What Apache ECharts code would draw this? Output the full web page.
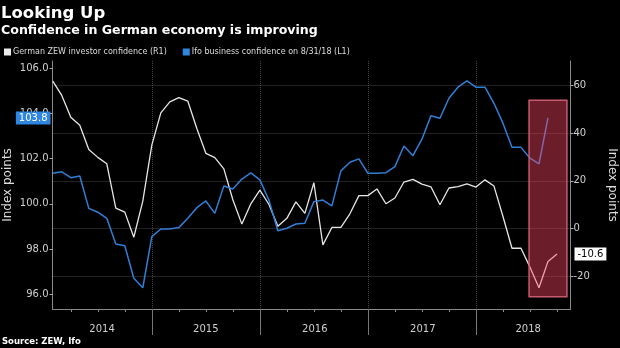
<!DOCTYPE html>
<html>
<head>
<meta charset="utf-8">
<script src="https://cdn.jsdelivr.net/npm/echarts@6/dist/echarts.min.js"></script>
<style>
  html, body { margin: 0; padding: 0; background: #000; }
  #chart { width: 620px; height: 348px; }
</style>
</head>
<body>
<div id="chart"></div>
<script>
// Month-end observations, Jan 2014 .. Sep 2018
const months = [
  '2014-01','2014-02','2014-03','2014-04','2014-05','2014-06','2014-07','2014-08','2014-09','2014-10','2014-11','2014-12',
  '2015-01','2015-02','2015-03','2015-04','2015-05','2015-06','2015-07','2015-08','2015-09','2015-10','2015-11','2015-12',
  '2016-01','2016-02','2016-03','2016-04','2016-05','2016-06','2016-07','2016-08','2016-09','2016-10','2016-11','2016-12',
  '2017-01','2017-02','2017-03','2017-04','2017-05','2017-06','2017-07','2017-08','2017-09','2017-10','2017-11','2017-12',
  '2018-01','2018-02','2018-03','2018-04','2018-05','2018-06','2018-07','2018-08','2018-09'
];
// German ZEW investor confidence (right axis)
const zew = [
  61.7, 55.7, 46.6, 43.2, 33.1, 29.8, 27.1, 8.6, 6.9, -3.6, 11.5, 34.9,
  48.4, 53.0, 54.8, 53.3, 41.9, 31.5, 29.7, 25.0, 12.1, 1.9, 10.4, 16.1,
  10.2, 1.0, 4.3, 11.2, 6.4, 19.2, -6.8, 0.5, 0.5, 6.2, 13.8, 13.8,
  16.6, 10.4, 12.8, 19.5, 20.6, 18.6, 17.5, 10.0, 17.0, 17.6, 18.7, 17.4,
  20.4, 17.8, 5.1, -8.2, -8.2, -16.1, -24.7, -13.7, -10.6
];
// Ifo business confidence (left axis)
const ifo = [
  101.35, 101.42, 101.16, 101.23, 99.80, 99.63, 99.36, 98.23, 98.15, 96.71, 96.29, 98.55,
  98.89, 98.89, 98.95, 99.36, 99.83, 100.13, 99.58, 100.79, 100.66, 101.10, 101.37, 101.06,
  100.17, 98.81, 98.92, 99.11, 99.14, 100.10, 100.17, 99.91, 101.46, 101.84, 101.99, 101.35,
  101.35, 101.38, 101.65, 102.56, 102.13, 102.86, 103.90, 103.79, 104.67, 105.16, 105.44, 105.16,
  105.16, 104.45, 103.57, 102.50, 102.50, 102.02, 101.77, 103.80
];
const leftTicks = [96, 98, 100, 102, 104, 106];
const rightTicks = [-20, 0, 20, 40, 60];
const yearLabels = ['2014', '2015', '2016', '2017', '2018'];
const yearLabelPos = [6.47, 18.0, 30.1, 42.1, 53.8];   // month index where each year label sits
const yearBounds = [12, 24, 36, 48];
const quarterTicks = [3, 6, 9, 15, 18, 21, 27, 30, 33, 39, 42, 45, 51, 54, 57];
const highlight = { x0: 53.9, x1: 58.1, y0: 53.7, y1: -28.5 };

const X_MIN = 0.97, X_MAX = 58.5;
const FONT = 'DejaVu Sans';

const chart = echarts.init(document.getElementById('chart'), null, { renderer: 'canvas' });

const zewData = zew.map((v, i) => [i + 1, v]);
const ifoData = ifo.map((v, i) => [i + 1, v]);
const hidden = { width: 0, color: 'rgba(0,0,0,0)', opacity: 1 };

const option = {
  backgroundColor: '#000',
  animation: false,
  textStyle: { fontFamily: FONT },
  title: [
    { text: 'Looking Up', left: 1, top: 5, padding: 0,
      textStyle: { color: '#fff', fontSize: 16.5, fontWeight: 'bold', fontFamily: FONT } },
    { text: 'Confidence in German economy is improving', left: 1, top: 24, padding: 0,
      textStyle: { color: '#fff', fontSize: 12.6, fontWeight: 'bold', fontFamily: FONT } },
    { text: 'Source: ZEW, Ifo', left: 2, top: 337, padding: 0,
      textStyle: { color: '#fff', fontSize: 8.5, fontWeight: 'bold', fontFamily: FONT } }
  ],
  legend: {
    left: 4, top: 48, itemWidth: 7, itemHeight: 7, itemGap: 16, padding: 0,
    icon: 'rect',
    textStyle: { color: '#ddd', fontSize: 8, fontFamily: FONT, padding: [0, 0, 0, -3] },
    data: ['German ZEW investor confidence (R1)', 'Ifo business confidence on 8/31/18 (L1)']
  },
  grid: { left: 52.5, right: 49.5, top: 61, bottom: 39, containLabel: false, outerBoundsMode: 'none' },
  xAxis: [
    {
      type: 'value', min: X_MIN, max: X_MAX, position: 'bottom',
      axisLine: { show: true, onZero: false, lineStyle: { color: '#8a8a8a', width: 1 } },
      axisTick: { show: true, customValues: quarterTicks, length: 3, lineStyle: { color: '#8a8a8a' } },
      axisLabel: { show: false },
      splitLine: { show: false }
    },
    {
      type: 'value', min: X_MIN, max: X_MAX, position: 'bottom',
      axisLine: { show: false, onZero: false },
      axisTick: { show: true, customValues: yearBounds, length: 26, lineStyle: { color: '#777' } },
      splitLine: { show: true, lineStyle: { color: '#444', type: 'dotted', width: 1 } },
      axisLabel: {
        show: true, customValues: yearLabelPos, margin: 15,
        color: '#cfcfcf', fontSize: 10, fontFamily: FONT,
        formatter: v => {
          const k = yearLabelPos.findIndex(p => Math.abs(p - v) < 0.01);
          return k >= 0 ? yearLabels[k] : '';
        }
      }
    }
  ],
  yAxis: [
    {
      type: 'value', min: 95.35, max: 106.32, position: 'left',
      axisLine: { show: true, onZero: false, lineStyle: { color: '#8a8a8a' } },
      axisTick: { show: true, customValues: leftTicks, length: 3, lineStyle: { color: '#aaa' } },
      axisLabel: { customValues: leftTicks, color: '#cfcfcf', fontSize: 10, margin: 4,
                   fontFamily: FONT, formatter: v => v.toFixed(1) },
      splitLine: { show: false },
      name: 'Index points', nameLocation: 'middle', nameGap: 39, nameMoveOverlap: false,
      nameTextStyle: { color: '#ddd', fontSize: 12, fontFamily: FONT }
    },
    {
      type: 'value', min: -33.6, max: 70.1, position: 'right',
      axisLine: { show: true, onZero: false, lineStyle: { color: '#8a8a8a' } },
      axisTick: { show: true, customValues: rightTicks, length: 3, lineStyle: { color: '#aaa' } },
      axisLabel: { customValues: rightTicks, color: '#cfcfcf', fontSize: 10, margin: 3,
                   fontFamily: FONT },
      splitLine: { show: true, lineStyle: { color: '#444', type: 'dotted', width: 1 } },
      name: 'Index points', nameLocation: 'middle', nameGap: 36, nameRotate: -90, nameMoveOverlap: false,
      nameTextStyle: { color: '#ddd', fontSize: 12, fontFamily: FONT }
    }
  ],
  series: [
    {
      name: 'German ZEW investor confidence (R1)',
      type: 'line', xAxisIndex: 0, yAxisIndex: 1,
      data: zewData, symbol: 'none', z: 3,
      color: '#ececec',
      lineStyle: { color: '#e6e6e6', width: 1.3 },
      markLine: {
        silent: true, symbol: 'none', animation: false,
        lineStyle: hidden,
        label: {
          show: true, position: 'end', distance: 4, opacity: 1,
          formatter: String(zew[zew.length - 1]),
          color: '#000', backgroundColor: '#fff', fontSize: 10, fontFamily: FONT,
          padding: [2, 3, 1, 3]
        },
        data: [{ yAxis: zew[zew.length - 1] }]
      },
      markArea: {
        silent: true, z: 10,
        itemStyle: { color: 'rgba(255,70,100,0.42)', borderColor: '#c85a70', borderWidth: 1.5 },
        data: [[{ coord: [highlight.x0, highlight.y0] }, { coord: [highlight.x1, highlight.y1] }]]
      }
    },
    {
      name: 'Ifo business confidence on 8/31/18 (L1)',
      type: 'line', xAxisIndex: 0, yAxisIndex: 0,
      data: ifoData, symbol: 'none', z: 4,
      color: '#2f86e0',
      lineStyle: { color: '#2f7fd6', width: 1.5 },
      markLine: {
        silent: true, symbol: 'none', animation: false,
        lineStyle: hidden,
        label: {
          show: true, position: 'start', distance: 2, opacity: 1,
          formatter: ifo[ifo.length - 1].toFixed(1),
          color: '#fff', backgroundColor: '#2f86e0', fontSize: 10, fontFamily: FONT,
          padding: [2, 3, 1, 3]
        },
        data: [{ yAxis: ifo[ifo.length - 1] }]
      }
    }
  ]
};
chart.setOption(option);
</script>
</body>
</html>
